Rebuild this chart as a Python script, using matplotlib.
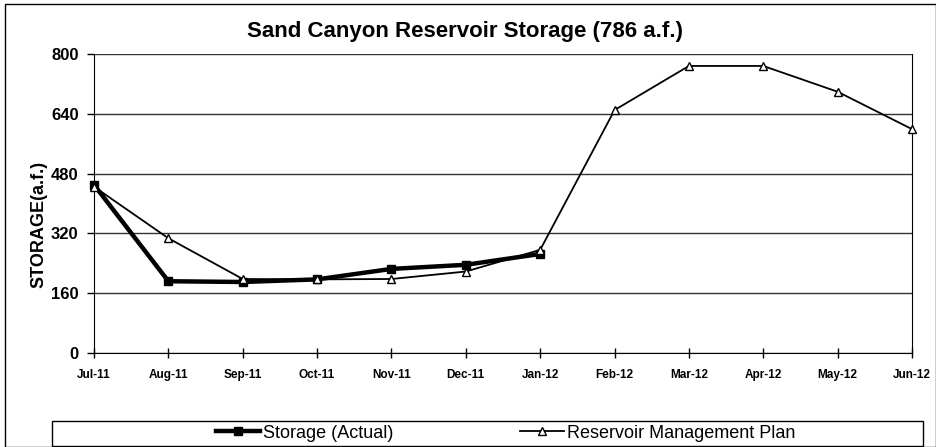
import matplotlib
matplotlib.use("Agg")
import matplotlib.pyplot as plt
from matplotlib.patches import Rectangle

# --------------------------------------------------------------------------- #
#  Data
# --------------------------------------------------------------------------- #
MONTHS = ["Jul-11", "Aug-11", "Sep-11", "Oct-11", "Nov-11", "Dec-11",
          "Jan-12", "Feb-12", "Mar-12", "Apr-12", "May-12", "Jun-12"]
STORAGE_ACTUAL = [450, 192, 190, 197, 225, 236, 265]           # Jul-11 .. Jan-12
PLAN = [445, 307, 198, 197, 198, 218, 276, 650, 768, 768, 699, 599]
Y_TICKS = [0, 160, 320, 480, 640, 800]

plt.rcParams["font.family"] = ["Liberation Sans", "DejaVu Sans"]

fig = plt.figure(figsize=(9.36, 4.47), dpi=100)
W, H = 936, 447
ax = fig.add_axes([94 / W, 1 - 353 / H, (912 - 94) / W, (353 - 54) / H])

# outer chart border + legend box
fig.patches.append(Rectangle((5 / W, 0), 1 - 5 / W, 1 - 4 / H, transform=fig.transFigure,
                             fill=False, edgecolor="black", linewidth=1.0))
fig.patches.append(Rectangle((52 / W, 1 - 446 / H), (923 - 52) / W, (446 - 421) / H,
                             transform=fig.transFigure, fill=False,
                             edgecolor="black", linewidth=1.0))

x_all = list(range(len(MONTHS)))
ax.plot(x_all[:len(STORAGE_ACTUAL)], STORAGE_ACTUAL, color="black", lw=3.2,
        marker="s", ms=6, mfc="black", mec="black", label="Storage (Actual)",
        zorder=3, clip_on=False)
ax.plot(x_all, PLAN, color="black", lw=1.3, marker="^", ms=6, mfc="white",
        mec="black", mew=1.0, label="Reservoir Management Plan", zorder=4,
        clip_on=False)

ax.set_xlim(0, len(MONTHS) - 1)
ax.set_ylim(0, 800)
ax.set_yticks(Y_TICKS)
ax.set_yticklabels([str(v) for v in Y_TICKS], fontsize=12, fontweight="bold")
ax.set_xticks(x_all)
ax.set_xticklabels(MONTHS, fontsize=8.5, fontweight="bold")
ax.tick_params(axis="x", direction="inout", length=7, width=1, pad=8)
ax.tick_params(axis="y", direction="out", length=5, width=1, pad=6)
ax.yaxis.grid(True, color="#333333", lw=1.0)
ax.set_axisbelow(True)
for side in ["left", "right", "bottom"]:
    ax.spines[side].set_color("black")
ax.spines["top"].set_visible(False)

ax.set_title("Sand Canyon Reservoir Storage (786 a.f.)", fontsize=16,
             fontweight="bold", pad=12, x=(465 - 94) / 818)
ax.set_ylabel("STORAGE(a.f.)", fontsize=13, fontweight="bold", va="center")
ax.yaxis.set_label_coords((39 - 94) / 818, 0.43)

fig.legend(loc="center", bbox_to_anchor=(506 / W, 1 - 433 / H), ncol=2,
           frameon=False, fontsize=13, handlelength=2.4, handletextpad=0.2,
           columnspacing=7.0)

fig.savefig("out.png", dpi=100)
